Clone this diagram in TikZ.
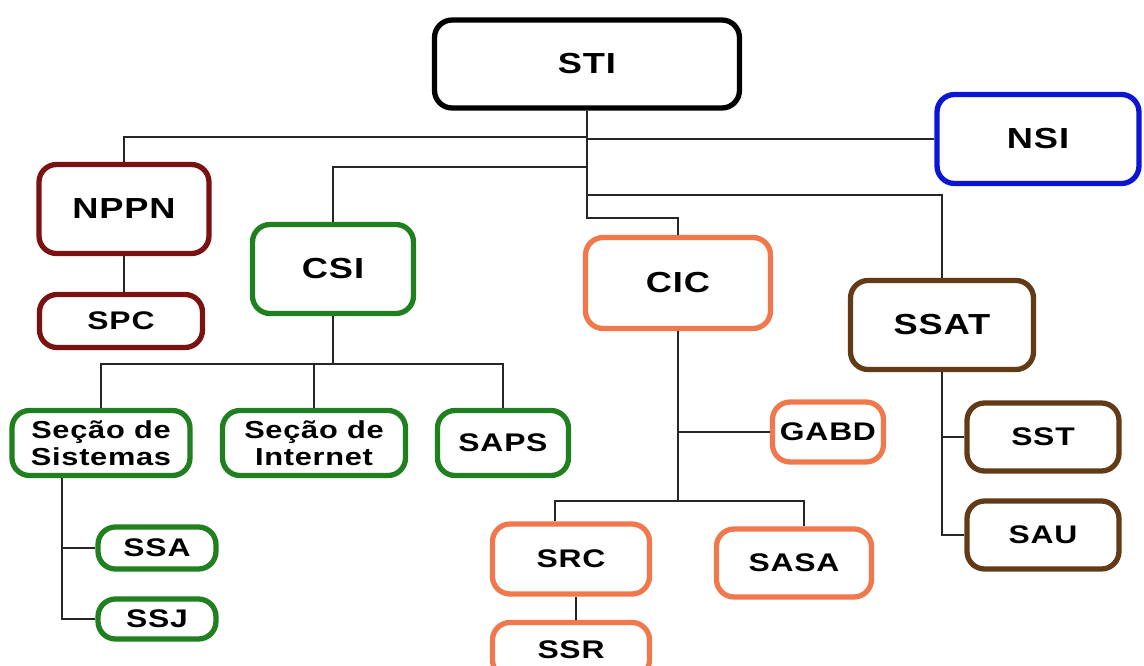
\documentclass[tikz,border=0pt]{standalone}
\usepackage{fontspec}
\setmainfont[FakeStretch=1.25,LetterSpace=3]{Liberation Sans}
\definecolor{nppnred}{RGB}{122,18,18}
\definecolor{csigreen}{RGB}{32,128,32}
\definecolor{cicorange}{RGB}{240,120,76}
\definecolor{ssatbrown}{RGB}{98,58,22}
\definecolor{nsiblue}{RGB}{12,22,210}
\begin{document}
\begin{tikzpicture}[x=0.02cm,y=-0.02cm,
	unit/.style={draw=#1,line width=3pt,rounded corners=0.35cm,inner sep=0pt,
		align=center,font=\bfseries\fontsize{16.5}{18}\selectfont},
	sub/.style={unit=#1,font=\bfseries\fontsize{14.5}{16}\selectfont},
	sec/.style={unit=#1,font=\bfseries\fontsize{14}{15.5}\selectfont},
	link/.style={line width=0.6pt,black!85}]
	\useasboundingbox (0,0) rectangle (1144,666);
	% top level
	\node[unit=black,minimum width=6.1cm,minimum height=1.76cm] (STI) at (587,64) {STI};
	\node[unit=nsiblue,minimum width=4.04cm,minimum height=1.78cm] (NSI) at (1038,139) {NSI};
	\node[unit=nppnred,minimum width=3.4cm,minimum height=1.78cm] (NPPN) at (124,209) {NPPN};
	\node[sub=nppnred,minimum width=3.26cm,minimum height=1.06cm] (SPC) at (121,321) {SPC};
	\node[unit=csigreen,minimum width=3.22cm,minimum height=1.78cm] (CSI) at (333,269) {CSI};
	\node[unit=cicorange,minimum width=3.7cm,minimum height=1.82cm] (CIC) at (678,283) {CIC};
	\node[unit=ssatbrown,minimum width=3.66cm,minimum height=1.78cm] (SSAT) at (942,325) {SSAT};
	% CSI branch
	\node[sec=csigreen,minimum width=3.56cm,minimum height=1.3cm] (SIS) at (101,443) {Seção de\\Sistemas};
	\node[sec=csigreen,minimum width=3.66cm,minimum height=1.3cm] (INT) at (314,443) {Seção de\\Internet};
	\node[sub=csigreen,minimum width=2.62cm,minimum height=1.3cm] (SAPS) at (503,443) {SAPS};
	\node[sub=csigreen,minimum width=2.36cm,minimum height=0.84cm] (SSA) at (157,548) {SSA};
	\node[sub=csigreen,minimum width=2.36cm,minimum height=0.8cm] (SSJ) at (157,619) {SSJ};
	% CIC branch
	\node[sub=cicorange,minimum width=2.22cm,minimum height=1.2cm] (GABD) at (828,432) {GABD};
	\node[sub=cicorange,minimum width=3.14cm,minimum height=1.4cm] (SRC) at (571,559) {SRC};
	\node[sub=cicorange,minimum width=3.14cm,minimum height=1.1cm] (SSR) at (571,650) {SSR};
	\node[sub=cicorange,minimum width=3.1cm,minimum height=1.36cm] (SASA) at (794,563) {SASA};
	% SSAT branch
	\node[sub=ssatbrown,minimum width=3.04cm,minimum height=1.36cm] (SST) at (1043,437) {SST};
	\node[sub=ssatbrown,minimum width=3.04cm,minimum height=1.36cm] (SAU) at (1043,535) {SAU};
	% junctions
	\coordinate (csij) at (CSI.south |- 0,364);
	\coordinate (cicj) at (CIC.south |- 0,501);
	\coordinate (sisb) at (SIS.south -| 62,0);
	% connectors from STI
	\draw[link] (STI.south) -- (STI.south |- 0,218) -| (CIC.north);
	\draw[link] (STI.south |- 0,137) -| (NPPN.north);
	\draw[link] (STI.south |- NSI) -- (NSI.west);
	\draw[link] (STI.south |- 0,167) -| (CSI.north);
	\draw[link] (STI.south |- 0,195) -| (SSAT.north);
	\draw[link] (NPPN.south) -- (NPPN.south |- SPC.north);
	% CSI
	\draw[link] (CSI.south) -- (csij);
	\draw[link] (SIS.north) |- (csij) -| (SAPS.north);
	\draw[link] (INT.north) -- (INT.north |- csij);
	\draw[link] (sisb) |- (SSA.west);
	\draw[link] (sisb) |- (SSJ.west);
	% CIC
	\draw[link] (CIC.south) -- (cicj);
	\draw[link] (CIC.south |- GABD) -- (GABD.west);
	\draw[link] (SRC.north -| 555,0) |- (cicj) -| (SASA.north -| 804,0);
	\draw[link] (SRC.south -| 576,0) -- (SSR.north -| 576,0);
	% SSAT
	\draw[link] (SSAT.south) |- (SST.west);
	\draw[link] (SSAT.south) |- (SAU.west);
\end{tikzpicture}
\end{document}
